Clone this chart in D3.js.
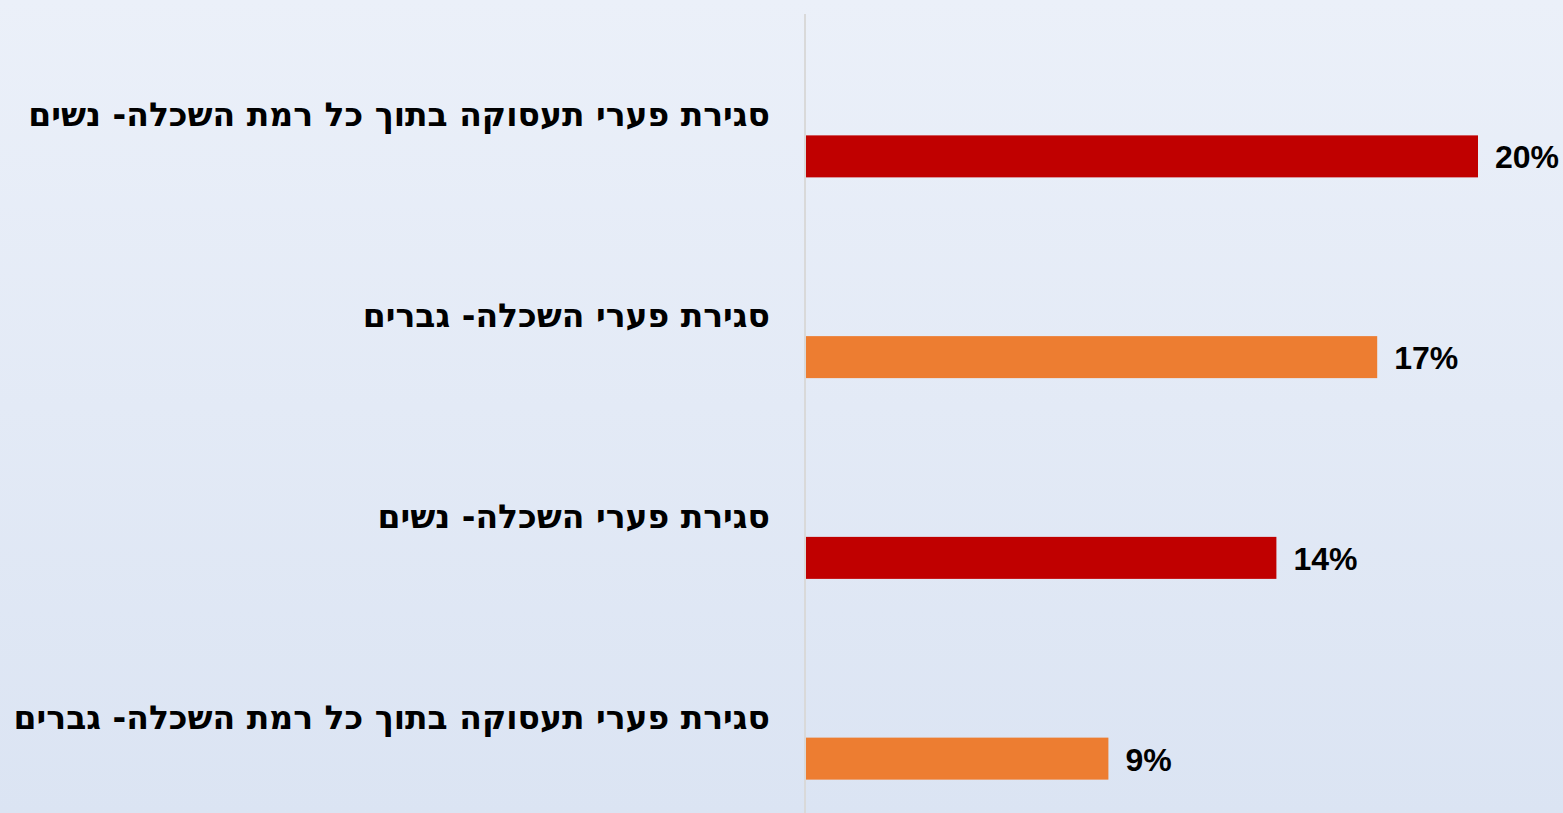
<!DOCTYPE html>
<html>
<head>
<meta charset="utf-8">
<script src="https://cdn.jsdelivr.net/npm/d3@7/dist/d3.min.js"></script>
<style>
  html, body { margin: 0; padding: 0; }
  body { width: 1563px; height: 813px; overflow: hidden; }
</style>
</head>
<body>
<div id="chart"></div>
<script>
// data, top to bottom
var categories = [
    "סגירת פערי תעסוקה בתוך כל רמת השכלה- נשים",
    "סגירת פערי השכלה- גברים",
    "סגירת פערי השכלה- נשים",
    "סגירת פערי תעסוקה בתוך כל רמת השכלה- גברים"
];
var values = [0.20, 0.17, 0.14, 0.09];
var barColors = ["#c00000", "#ed7d31", "#c00000", "#ed7d31"];

var W = 1563, H = 813;
var barH = 42;

var svg = d3.select("#chart").append("svg")
    .attr("width", W)
    .attr("height", H);

// background
var grad = svg.append("defs").append("linearGradient")
    .attr("id", "bg")
    .attr("x1", "0%").attr("y1", "0%")
    .attr("x2", "0%").attr("y2", "100%");
grad.append("stop").attr("offset", "0%").attr("stop-color", "#ebf0f9");
grad.append("stop").attr("offset", "100%").attr("stop-color", "#dbe4f3");
svg.append("rect").attr("width", W).attr("height", H).style("fill", "url(#bg)");

var x = d3.scaleLinear().domain([0, 0.2]).range([806, 1478]);
var y = d3.scaleBand().domain(categories).range([56, 859]);
var fmt = d3.format(".0%");

// axis line
svg.append("line")
    .attr("x1", 805).attr("x2", 805)
    .attr("y1", 14).attr("y2", H)
    .attr("stroke", "#d9d9d9")
    .attr("stroke-width", 2);

var rows = svg.selectAll("g.row")
    .data(categories)
    .enter().append("g")
    .attr("class", "row");

rows.append("rect")
    .attr("x", x(0))
    .attr("y", function(d) { return y(d) + (y.step() - barH) / 2; })
    .attr("width", function(d, i) { return x(values[i]) - x(0); })
    .attr("height", barH)
    .attr("fill", function(d, i) { return barColors[i]; });

// category labels above the bars
rows.append("text")
    .attr("x", 770)
    .attr("y", function(d) { return y(d) + (y.step() - barH) / 2 - 9; })
    .attr("text-anchor", "end")
    .style("font-family", "'DejaVu Sans', sans-serif")
    .style("font-weight", "bold")
    .style("font-size", "33px")
    .attr("fill", "#000")
    .text(function(d) { return d; });

// value labels
rows.append("text")
    .attr("x", function(d, i) { return x(values[i]) + 17; })
    .attr("y", function(d) { return y(d) + y.step() / 2 + 12; })
    .style("font-family", "'Liberation Sans', sans-serif")
    .style("font-weight", "bold")
    .style("font-size", "32px")
    .attr("fill", "#000")
    .text(function(d, i) { return fmt(values[i]); });
</script>
</body>
</html>
